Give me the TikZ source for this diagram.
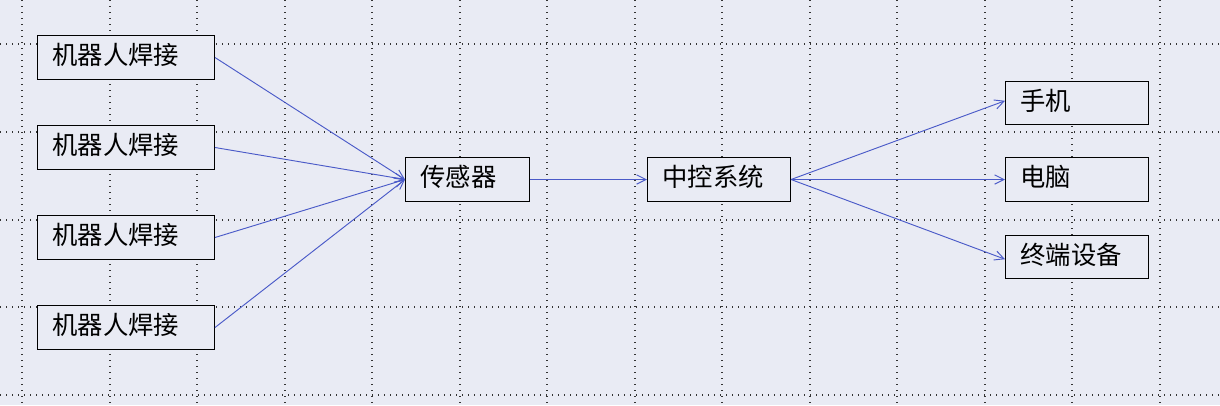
\documentclass[tikz,border=0pt]{standalone}
\usepackage{fontspec}
\setmainfont{Noto Sans CJK SC}
\usetikzlibrary{arrows.meta,calc}
\definecolor{bg}{HTML}{E9EBF4}
\definecolor{ln}{HTML}{4A5AC8}
\tikzset{
 bx/.style={draw=black,line width=0.75pt,fill=bg,anchor=north west,inner sep=0pt,
   text height=15pt,text depth=4pt,font=\fontsize{19}{19}\selectfont,align=left},
 ar/.style={draw=ln,line width=0.7pt,-{Straight Barb[length=7pt,width=7pt]}},
 gridl/.style={line width=1pt,dash pattern=on 0.75pt off 3.75pt,black!80}
}
\newcommand{\bxn}[6]{\node[bx,minimum width=#3*0.75pt,minimum height=#4*0.75pt,text width=#3*0.75pt-7.5pt] (#5) at (#1*0.75pt,-#2*0.75pt) {\hspace*{7.5pt}#6};}
\begin{document}
\begin{tikzpicture}[x=1pt,y=1pt]
\fill[bg] (0,0) rectangle (915,-303.75);
\useasboundingbox (0,0) rectangle (915,-303.75);
\foreach \x in {22,110,197,285,372,460,547,635,722,810,897,985,1072,1160}
  \draw[gridl] (\x*0.75,0) -- (\x*0.75,-303.75);
\foreach \y in {44,132,220,307,395}
  \draw[gridl] (0,-\y*0.75) -- (915,-\y*0.75);
\bxn{37}{35}{177}{44}{r1}{机器人焊接}
\bxn{37}{125}{177}{44}{r2}{机器人焊接}
\bxn{37}{215}{177}{44}{r3}{机器人焊接}
\bxn{37}{305}{177}{44}{r4}{机器人焊接}
\bxn{405}{157}{124}{44}{s}{传感器}
\bxn{647}{157}{143}{44}{c}{中控系统}
\bxn{1005}{81}{143}{43}{p}{手机}
\bxn{1005}{157}{143}{44}{d}{电脑}
\bxn{1005}{235}{143}{43}{t}{终端设备}
\foreach \n in {r1,r2,r3,r4} \draw[ar] (\n.east) -- (s.west);
\draw[ar] (s.east) -- (c.west);
\draw[ar] (c.east) -- ($(p.north west)!0.45!(p.south west)$);
\draw[ar] (c.east) -- (d.west);
\draw[ar] (c.east) -- ($(t.north west)!0.55!(t.south west)$);
\end{tikzpicture}
\end{document}
